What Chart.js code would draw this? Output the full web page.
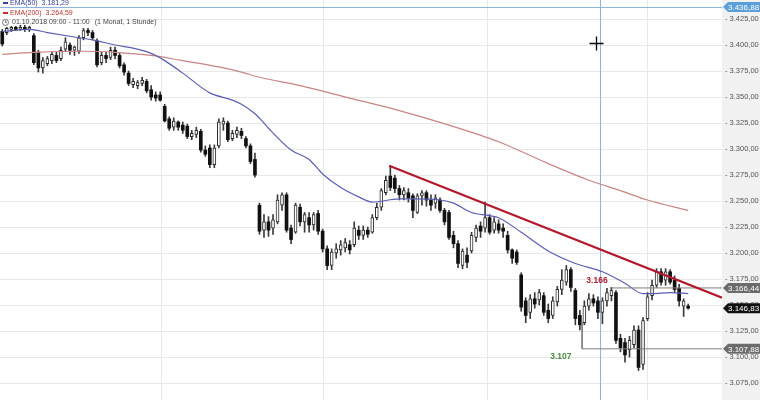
<!DOCTYPE html>
<html>
<head>
<meta charset="utf-8">
<title>Chart</title>
<script src="https://cdn.jsdelivr.net/npm/chart.js@4.4.0/dist/chart.umd.min.js"></script>
<style>
  body { margin:0; background:#fff; }
  #box { width:760px; height:400px; position:relative; }
</style>
</head>
<body>
<div id="box"><canvas id="kurs"></canvas></div>
<script>
// hourly candles
const openP = [3413,3412,3415,3417,3415,3417,3415,3409,3393,3378,
  3382,3385,3390,3387,3396,3400,3395,3394,3407,3414,
  3412,3404,3383,3390,3388,3395,3390,3381,3373,3362,
  3361,3363,3365,3357,3352,3352,3341,3329,3321,3326,
  3323,3322,3312,3314,3317,3299,3301,3285,3303,3324,
  3325,3310,3314,3317,3310,3303,3290,3246,3222,3230,
  3224,3230,3246,3256,3224,3220,3244,3230,3234,3227,
  3238,3221,3204,3188,3200,3203,3205,3208,3208,3222,
  3217,3222,3220,3234,3244,3258,3274,3272,3262,3256,
  3258,3255,3239,3255,3258,3251,3248,3251,3241,3239,
  3217,3209,3188,3198,3202,3215,3226,3224,3234,3222,
  3228,3224,3217,3203,3201,3179,3154,3143,3156,3155,
  3159,3145,3140,3153,3165,3172,3184,3164,3140,3133,
  3149,3156,3154,3143,3154,3159,3162,3118,3114,3107,
  3112,3126,3093,3137,3159,3169,3182,3174,3182,3174,
  3166,3149,3149];
const highP = [3415,3417,3418,3418,3419,3419,3418,3411,3395,3388,
  3389,3393,3393,3398,3407,3402,3399,3409,3416,3416,
  3414,3406,3393,3393,3398,3398,3392,3383,3375,3368,
  3366,3369,3367,3361,3355,3355,3343,3331,3330,3327,
  3326,3324,3318,3321,3319,3303,3304,3304,3329,3330,
  3327,3318,3321,3320,3312,3305,3296,3248,3237,3235,
  3237,3256,3258,3258,3227,3248,3247,3239,3239,3239,
  3241,3223,3207,3204,3209,3212,3214,3212,3230,3226,
  3226,3225,3237,3248,3262,3274,3284,3275,3265,3263,
  3262,3257,3257,3260,3260,3256,3256,3253,3243,3241,
  3221,3212,3204,3205,3220,3227,3230,3249,3237,3234,
  3232,3228,3221,3204,3203,3181,3157,3160,3162,3165,
  3162,3151,3158,3168,3184,3188,3186,3166,3145,3154,
  3161,3160,3158,3157,3166,3167,3164,3122,3118,3120,
  3130,3130,3138,3162,3174,3185,3185,3185,3184,3178,
  3170,3156,3151];
const lowP = [3399,3410,3413,3414,3414,3413,3413,3381,3374,3373,
  3380,3382,3383,3385,3394,3391,3390,3392,3405,3409,
  3405,3379,3381,3383,3386,3387,3378,3371,3361,3359,
  3358,3361,3354,3347,3346,3346,3326,3318,3318,3318,
  3315,3310,3309,3311,3297,3293,3282,3282,3301,3318,
  3307,3308,3311,3310,3301,3286,3273,3218,3215,3216,
  3218,3228,3241,3220,3209,3219,3226,3220,3220,3222,
  3218,3201,3184,3184,3195,3198,3201,3199,3206,3213,
  3213,3215,3219,3232,3241,3256,3260,3258,3251,3251,
  3249,3234,3238,3246,3245,3241,3243,3239,3227,3213,
  3205,3186,3185,3186,3200,3211,3215,3220,3218,3219,
  3219,3215,3200,3190,3189,3144,3133,3137,3147,3150,
  3140,3133,3137,3149,3160,3169,3163,3131,3126,3131,
  3145,3149,3137,3132,3149,3154,3113,3105,3095,3100,
  3109,3087,3088,3135,3155,3167,3169,3169,3170,3162,
  3149,3139,3146];
const closeP = [3401,3416,3417,3415,3417,3415,3417,3383,3378,3385,
  3387,3391,3385,3395,3403,3395,3398,3407,3414,3412,
  3407,3381,3390,3387,3395,3390,3380,3374,3363,3365,
  3364,3366,3356,3350,3349,3347,3327,3320,3327,3321,
  3318,3312,3315,3318,3299,3295,3285,3301,3326,3327,
  3309,3315,3318,3313,3303,3288,3275,3221,3230,3222,
  3232,3251,3256,3222,3213,3246,3230,3237,3227,3237,
  3221,3204,3188,3201,3204,3208,3210,3203,3224,3217,
  3222,3218,3234,3244,3260,3270,3263,3262,3256,3260,
  3253,3241,3255,3258,3251,3246,3253,3241,3230,3215,
  3209,3190,3202,3191,3217,3224,3221,3234,3220,3230,
  3222,3221,3203,3195,3191,3148,3140,3156,3151,3162,
  3143,3137,3154,3165,3174,3184,3167,3137,3131,3149,
  3156,3152,3143,3154,3162,3164,3116,3109,3102,3116,
  3126,3090,3135,3158,3169,3182,3172,3182,3172,3165,
  3154,3154,3147];

// moving averages, sampled along the drawn curves (bar index / value)
const ema50Idx = [0,6,10,17,20,25,29,33,36,40,46,51,53,56,58,59,64,68,71,75,79,82,88,91,97,100,104,108,110,115,121,127,133,138,142,144,148,152];
const ema50Val = [3413,3415,3412,3407,3405,3400,3397,3392,3385,3373,3354,3347,3343,3334,3325,3320,3299,3290,3276,3263,3254,3249,3252,3252,3251,3248,3239,3236,3234,3220,3202,3190,3182,3171,3161,3161,3162,3161];
const ema200Idx = [0,7,18,25,33,40,48,53,57,66,77,88,99,110,121,130,137,143,152];
const ema200Val = [3391,3393,3394,3393,3390,3385,3379,3374,3369,3361,3349,3337,3323,3307,3286,3270,3260,3251,3241];

const trendIdx = [85.75, 159.5];
const trendVal = [3284, 3157];

const yTickVals = [3075,3100,3125,3150,3175,3200,3225,3250,3275,3300,3325,3350,3375,3400,3425];
const dayLines = [35.4, 71.1, 107.5, 143.0];

const lastPrice = 3146.83;
const highMark = 3166.44;
const lowMark = 3107.88;
const highText = '3.166';
const lowText = '3.107';
const lowStart = 3133.7;
const cursorIdx = 132.57;
const cursorVal = 3436.88;
const ema50Now = 3181.29;
const ema200Now = 3264.59;
const tagVals = [cursorVal, highMark, lastPrice, lowMark];
const tagColors = ['#5a9fd8', '#6b6b6b', '#111111', '#6b6b6b'];

const FONT = 'Arial, "Liberation Sans", sans-serif';

function fmt(v, d) {
  const parts = v.toFixed(d).split('.');
  const head = parts[0].replace(/\B(?=(\d{3})+(?!\d))/g, '.');
  return parts.length > 1 ? head + ',' + parts[1] : head;
}

const isUp = openP.map((o, i) => closeP[i] > o);
const wickData = openP.map((o, i) => ({x: i, y: [lowP[i], highP[i]]}));
const bodyData = openP.map((o, i) => ({x: i, y: [Math.min(o, closeP[i]), Math.max(o, closeP[i])]}));

const extras = {
  id: 'extras',
  beforeDraw(chart) {
    const c = chart.ctx, a = chart.chartArea;
    c.save();
    c.fillStyle = '#ffffff';
    c.fillRect(0, 0, chart.width, chart.height);
    c.fillStyle = '#f1f1f1';
    c.fillRect(a.right, 0, chart.width - a.right, chart.height);
    c.restore();
  },
  beforeDatasetsDraw(chart) {
    const c = chart.ctx, a = chart.chartArea;
    const xs = chart.scales.x, ys = chart.scales.y;
    const px = Math.round(xs.getPixelForValue(cursorIdx)) + 0.5;
    const py = Math.round(Math.max(7, ys.getPixelForValue(cursorVal))) + 0.5;
    c.save();
    c.strokeStyle = '#8bb5dc';
    c.lineWidth = 1;
    c.beginPath();
    c.moveTo(px, 0); c.lineTo(px, chart.height);
    c.moveTo(0, py); c.lineTo(a.right, py);
    c.stroke();
    c.restore();
  },
  afterDraw(chart) {
    const c = chart.ctx, a = chart.chartArea;
    const xs = chart.scales.x, ys = chart.scales.y;
    c.save();

    // price tags on the right axis
    tagVals.forEach((v, k) => {
      const y = Math.max(7, ys.getPixelForValue(v));
      const h = 10;
      c.fillStyle = tagColors[k];
      c.beginPath();
      c.moveTo(a.right + 1, y);
      c.lineTo(a.right + 6, y - h / 2);
      c.lineTo(chart.width, y - h / 2);
      c.lineTo(chart.width, y + h / 2);
      c.lineTo(a.right + 6, y + h / 2);
      c.closePath();
      c.fill();
      c.fillStyle = '#ffffff';
      c.font = '8px ' + FONT;
      c.textAlign = 'left';
      c.textBaseline = 'middle';
      c.fillText(fmt(v, 2), a.right + 6, y + 0.5);
    });

    // high / low labels
    c.font = 'bold 8.5px ' + FONT;
    c.textAlign = 'center';
    c.textBaseline = 'middle';
    c.fillStyle = '#b01f30';
    c.fillText(highText, xs.getPixelForValue(131.8), ys.getPixelForValue(3173.1));
    c.fillStyle = '#4a8a3c';
    c.fillText(lowText, xs.getPixelForValue(123.8), ys.getPixelForValue(3100.0));

    // mouse cross
    const cx = Math.round(xs.getPixelForValue(131.6)) + 0.5;
    const cy = Math.round(ys.getPixelForValue(3401.9)) + 0.5;
    c.strokeStyle = '#000000';
    c.lineWidth = 1.3;
    c.beginPath();
    c.moveTo(cx - 7, cy); c.lineTo(cx + 7, cy);
    c.moveTo(cx, cy - 7); c.lineTo(cx, cy + 7);
    c.stroke();

    // legend, top left
    c.font = '7px ' + FONT;
    c.textAlign = 'left';
    c.textBaseline = 'middle';
    const rows = [
      {y: 3, color: '#34419c', label: 'EMA(50)', value: fmt(ema50Now, 2)},
      {y: 13, color: '#c0302c', label: 'EMA(200)', value: fmt(ema200Now, 2)}
    ];
    rows.forEach(r => {
      c.fillStyle = r.color;
      c.fillRect(3, r.y - 1, 5, 2);
      c.fillText(r.label, 10, r.y);
      c.fillText(r.value, 10 + c.measureText(r.label).width + 4, r.y);
    });
    c.strokeStyle = '#555';
    c.lineWidth = 0.8;
    c.beginPath();
    c.arc(5.5, 22.5, 3, 0, Math.PI * 2);
    c.moveTo(5.5, 20.5); c.lineTo(5.5, 22.5); c.lineTo(7, 22.5);
    c.stroke();
    c.fillStyle = '#444';
    const period = '01.10.2018 09:00 - 11:00';
    c.fillText(period, 12, 22.5);
    c.fillText('(1 Monat, 1 Stunde)', 12 + c.measureText(period).width + 5, 22.5);
    c.restore();
  }
};

try {
  const ctx = document.getElementById('kurs').getContext('2d');
  const myChart = new Chart(ctx, {
    type: 'bar',
    data: {
      datasets: [
        {
          label: 'Docht',
          data: wickData,
          grouped: false,
          order: 6,
          barThickness: 1,
          backgroundColor: '#3a3a3a'
        },
        {
          label: 'Kerze',
          data: bodyData,
          grouped: false,
          order: 5,
          barThickness: 3,
          borderSkipped: false,
          backgroundColor: c => isUp[c.dataIndex] ? '#ffffff' : '#111111',
          borderColor: '#2a2a2a',
          borderWidth: c => isUp[c.dataIndex] ? 1 : 0
        },
        {
          type: 'line',
          label: 'EMA(200)',
          data: ema200Idx.map((x, i) => ({x: x, y: ema200Val[i]})),
          borderColor: '#c98484',
          borderWidth: 1.2,
          pointRadius: 0,
          cubicInterpolationMode: 'monotone',
          order: 4
        },
        {
          type: 'line',
          label: 'EMA(50)',
          data: ema50Idx.map((x, i) => ({x: x, y: ema50Val[i]})),
          borderColor: '#5b5fb3',
          borderWidth: 1.2,
          pointRadius: 0,
          cubicInterpolationMode: 'monotone',
          order: 3
        },
        {
          type: 'line',
          label: 'Hoch',
          data: [{x: 134.7, y: highMark}, {x: 159.5, y: highMark}],
          borderColor: '#7d7d7d',
          borderWidth: 1,
          pointRadius: 0,
          order: 2
        },
        {
          type: 'line',
          label: 'Tief',
          data: [{x: 128.5, y: lowStart}, {x: 128.5, y: lowMark}, {x: 159.5, y: lowMark}],
          borderColor: '#7d7d7d',
          borderWidth: 1,
          pointRadius: 0,
          order: 2
        },
        {
          type: 'line',
          label: 'Trend',
          data: trendIdx.map((x, i) => ({x: x, y: trendVal[i]})),
          borderColor: '#b3192c',
          borderWidth: 2.2,
          pointRadius: 0,
          order: 1
        }
      ]
    },
    options: {
      responsive: true,
      maintainAspectRatio: false,
      animation: false,
      devicePixelRatio: 1,
      layout: { padding: 0 },
      plugins: {
        legend: { display: false },
        tooltip: { enabled: false }
      },
      scales: {
        x: {
          type: 'linear',
          min: -0.5,
          max: 159.5,
          offset: false,
          afterBuildTicks: s => { s.ticks = dayLines.map(v => ({value: v})); },
          afterFit: s => { s.height = 0; s.paddingLeft = 0; s.paddingRight = 0; },
          grid: { color: '#e8e8e8', drawTicks: false, offset: false },
          border: { display: false },
          ticks: { display: false }
        },
        y: {
          type: 'linear',
          position: 'right',
          min: 3058.7,
          max: 3443.3,
          beginAtZero: false,
          afterBuildTicks: s => { s.ticks = yTickVals.map(v => ({value: v})); },
          afterFit: s => { s.width = 38; s.paddingTop = 0; s.paddingBottom = 0; },
          grid: { color: '#e8e8e8', drawTicks: false },
          border: { display: false },
          ticks: {
            padding: 3,
            color: '#555555',
            font: { size: 7.5, family: FONT },
            callback: v => '- ' + fmt(v, 2)
          }
        }
      }
    },
    plugins: [extras]
  });
} catch (e) {
  console.log('chart error', e);
}
</script>
</body>
</html>
